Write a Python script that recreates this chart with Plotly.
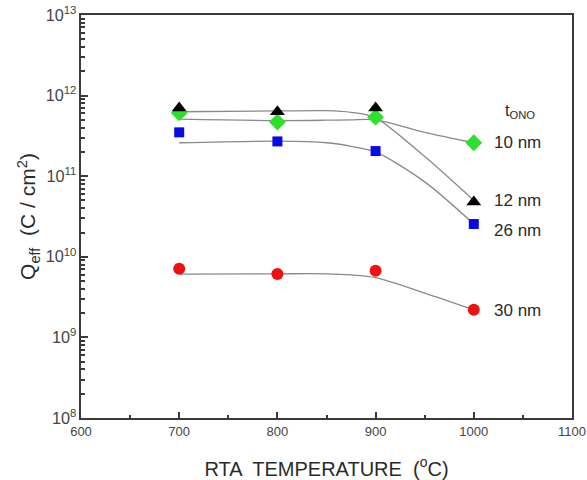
import math
import plotly.graph_objects as go

# ---- data ----
temps = [700, 800, 900, 1000]
q_10nm = [6.1e11, 4.7e11, 5.4e11, 2.6e11]
q_12nm = [7.0e11, 6.3e11, 7.0e11, 4.8e10]
q_26nm = [3.5e11, 2.7e11, 2.05e11, 2.55e10]
q_30nm = [7.1e9, 6.1e9, 6.7e9, 2.2e9]

fit_t = [700, 800, 850, 875, 900, 950, 1000]
fit_10nm = [5.1e11, 4.9e11, 4.95e11, 5.0e11, 5.0e11, 3.5e11, 2.6e11]
fit_12nm = [6.3e11, 6.45e11, 6.5e11, 6.2e11, 5.3e11, 1.75e11, 5.0e10]
fit_26nm = [2.6e11, 2.72e11, 2.6e11, 2.35e11, 2.0e11, 8.5e10, 2.55e10]
fit_30nm = [6.1e9, 6.15e9, 6.15e9, 5.95e9, 5.5e9, 3.55e9, 2.2e9]

labels = ["10 nm", "12 nm", "26 nm", "30 nm"]
label_y = [2.65e11, 5.0e10, 2.1e10, 2.15e9]

fig = go.Figure()

line_style = dict(color="#8a8a8a", width=1.3, shape="spline", smoothing=0.8)
for fy in [fit_10nm, fit_12nm, fit_26nm, fit_30nm]:
    fig.add_trace(go.Scatter(x=fit_t, y=fy, mode="lines", line=line_style,
                             showlegend=False, hoverinfo="skip"))

fig.add_trace(go.Scatter(x=temps, y=q_30nm, mode="markers", showlegend=False,
                         marker=dict(symbol="circle", size=12, color="#ee1111")))
fig.add_trace(go.Scatter(x=temps, y=q_26nm, mode="markers", showlegend=False,
                         marker=dict(symbol="square", size=10, color="#0a0ae6")))
fig.add_trace(go.Scatter(x=temps, y=q_10nm, mode="markers", showlegend=False,
                         marker=dict(symbol="diamond", size=13, color="#2ee02e")))
fig.add_trace(go.Scatter(x=temps, y=q_12nm, mode="markers", showlegend=False,
                         marker=dict(symbol="triangle-up", size=13, color="#000000")))

font_fam = "Liberation Sans, Arial, sans-serif"

for lab, ly in zip(labels, label_y):
    fig.add_annotation(x=1019, y=math.log10(ly), text=lab,
                       showarrow=False, xanchor="left", yanchor="middle",
                       font=dict(size=17, color="#2a2a2a", family=font_fam))
fig.add_annotation(x=1030, y=11.8, text="t<sub>ONO</sub>", showarrow=False,
                   xanchor="left", yanchor="middle",
                   font=dict(size=16, color="#2a2a2a", family=font_fam))

axis_common = dict(showline=True, linecolor="#3a3a3a", linewidth=2, mirror=True,
                   ticks="inside", tickcolor="#3a3a3a", showgrid=False, automargin=False,
                   zeroline=False, tickfont=dict(size=13, color="#444444", family=font_fam))

fig.update_xaxes(range=[600, 1100], dtick=100, tick0=600, ticklen=6, tickwidth=1.5,
                 minor=dict(ticks="inside", dtick=50, ticklen=3, tickcolor="#3a3a3a", showgrid=False),
                 title=dict(text="RTA  TEMPERATURE  (<sup>o</sup>C)", standoff=24,
                            font=dict(size=20, color="#2a2a2a", family=font_fam)),
                 **axis_common)
fig.update_yaxes(type="log", range=[8, 13], dtick=1, exponentformat="power",
                 ticklen=7, tickwidth=1.5,
                 minor=dict(ticks="inside", dtick="D1", ticklen=4, tickcolor="#3a3a3a", showgrid=False),
                 title=dict(text="Q<sub>eff</sub>  (C / cm<sup>2</sup>)", standoff=4,
                            font=dict(size=21, color="#2a2a2a", family=font_fam)),
                 **axis_common)

fig.update_layout(width=587, height=480, plot_bgcolor="white", paper_bgcolor="white",
                  margin=dict(l=81, r=15, t=15, b=62), showlegend=False,
                  font=dict(family=font_fam))

fig.write_html("out.html")
